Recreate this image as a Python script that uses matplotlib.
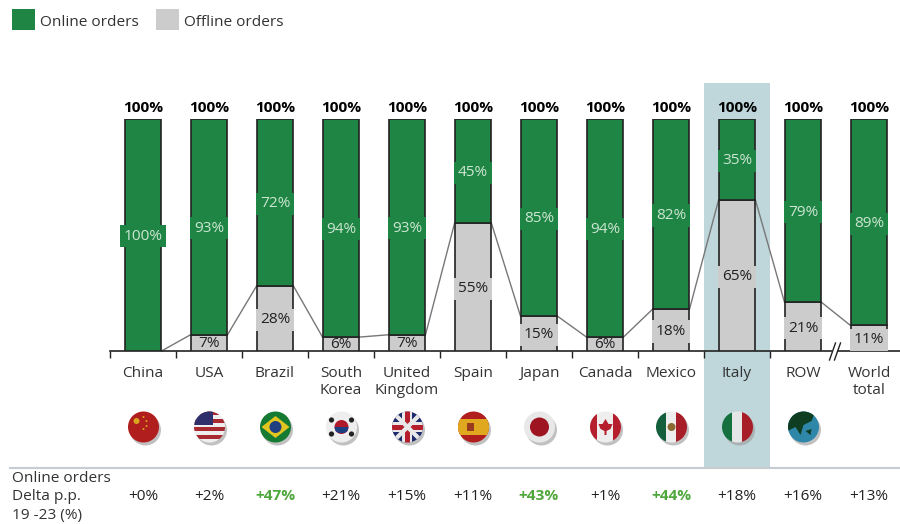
import matplotlib
matplotlib.use("Agg")
import matplotlib.pyplot as plt
from matplotlib.patches import Rectangle, Circle, Polygon
from matplotlib.transforms import blended_transform_factory

plt.rcParams['font.family'] = ['Open Sans', 'DejaVu Sans']

categories = ["China", "USA", "Brazil", "South\nKorea", "United\nKingdom", "Spain",
              "Japan", "Canada", "Mexico", "Italy", "ROW", "World\ntotal"]
online = [100, 93, 72, 94, 93, 45, 85, 94, 82, 35, 79, 89]
offline = [0, 7, 28, 6, 7, 55, 15, 6, 18, 65, 21, 11]
totals = ["100%"] * 12
delta = ["+0%", "+2%", "+47%", "+21%", "+15%", "+11%", "+43%", "+1%", "+44%", "+18%", "+16%", "+13%"]
delta_highlight = ["+47%", "+43%", "+44%"]

GREEN = "#1E8544"
GRAY = "#CCCCCC"
DARK = "#333333"
W, H = 900, 524
FS = 11.1

fig = plt.figure(figsize=(W / 100, H / 100), dpi=100)

# pixel-space background layer
bg = fig.add_axes([0, 0, 1, 1], zorder=0)
bg.set_xlim(0, W)
bg.set_ylim(H, 0)
bg.axis("off")

L, R, B, T = 110, 902, 351, 119
ax = fig.add_axes([L / W, 1 - B / H, (R - L) / W, (B - T) / H], zorder=2)
ax.patch.set_alpha(0)
ax.set_xlim(-0.5, 11.5)
ax.set_ylim(0, 100)
for s in ["left", "right", "top"]:
    ax.spines[s].set_visible(False)
ax.spines["bottom"].set_color("#222222")
ax.spines["bottom"].set_linewidth(1.2)
ax.set_yticks([])

x = list(range(len(categories)))
bw = 0.56
b1 = ax.bar(x, offline, bw, color=GRAY, edgecolor="#222222", linewidth=1.2, label="Offline orders", zorder=3)
b2 = ax.bar(x, online, bw, bottom=offline, color=GREEN, edgecolor="#222222", linewidth=1.2, label="Online orders", zorder=3)

# connectors
for i in range(len(x) - 1):
    ax.plot([x[i] + bw / 2, x[i + 1] - bw / 2], [offline[i], offline[i + 1]],
            color="#777777", lw=1, zorder=2, clip_on=False)

# value labels
NUDGE = -0.6
for i in x:
    ax.text(i, offline[i] + online[i] / 2 + NUDGE, f"{online[i]}%", ha="center", va="center",
            color="#CDE6D2", fontsize=FS, zorder=5,
            bbox=dict(fc=GREEN, ec="none", pad=2.6))
    if offline[i] > 10:
        ax.text(i, offline[i] / 2 + NUDGE, f"{offline[i]}%", ha="center", va="center",
                color="#222222", fontsize=FS, zorder=5,
                bbox=dict(fc=GRAY, ec="none", pad=2.6))
    elif offline[i] > 0:
        ax.text(i, offline[i] / 2 - 0.4, f"{offline[i]}%", ha="center", va="center",
                color="#222222", fontsize=FS, zorder=5)
    ax.text(i, 100 + 4.7, totals[i], ha="center", va="center", color="black",
            fontsize=FS, fontweight="bold", zorder=5)

# axis ticks
ax.set_xticks(x, categories)
ax.tick_params(axis="x", which="major", length=0, pad=10.5, labelsize=FS, labelcolor=DARK)
for t in ax.get_xticklabels():
    t.set_verticalalignment("top")
    t.set_linespacing(1.25)
ax.set_xticks([i - 0.5 for i in range(11)], minor=True)
ax.tick_params(axis="x", which="minor", length=5, width=1, color="#222222")

# axis break
tr = blended_transform_factory(ax.transData, bg.transData)
bg2 = fig.add_axes([0, 0, 1, 1], zorder=3)
bg2.set_xlim(0, W)
bg2.set_ylim(H, 0)
bg2.axis("off")
bg2.add_patch(Rectangle((832, 349), 5, 4, fc="white", ec="none"))
for dx in (-2.5, 2.5):
    bg2.plot([832 + dx, 838 + dx], [360, 343], color="#222222", lw=1)

# highlight & separator
bg.add_patch(Rectangle((704, 83), 66, 385, fc="#BFD7DB", ec="none", zorder=0))
bg.plot([10, 900], [468, 468], color="#C5CDD0", lw=1.5, zorder=1)

# delta row
for i in x:
    hl = delta[i] in delta_highlight
    bg.text(tr.transform((i, 0))[0], 496, delta[i], ha="center", va="center",
            color="#4FA63C" if hl else "#222222", fontsize=FS,
            fontweight="bold" if hl else "normal")
bg.text(12, 497, "Online orders\nDelta p.p.\n19 -23 (%)", ha="left", va="center",
        color=DARK, fontsize=FS, linespacing=1.3)


# flags
def flag(cx, draw, cy=427, r=15.5):
    bg.add_patch(Circle((cx + 2, cy + 3), r, fc="#999999", ec="none", alpha=0.6, zorder=2))
    clip = Circle((cx, cy), r, transform=bg.transData)
    def rect(x0, y0, w, h, c):
        p = Rectangle((cx + x0, cy + y0), w, h, fc=c, ec="none", zorder=3)
        bg.add_patch(p)
        p.set_clip_path(clip)
    def circ(x0, y0, rad, c):
        p = Circle((cx + x0, cy + y0), rad, fc=c, ec="none", zorder=4)
        bg.add_patch(p)
        p.set_clip_path(clip)
    def poly(pts, c, z=4):
        p = Polygon([(cx + a, cy + b) for a, b in pts], fc=c, ec="none", zorder=z)
        bg.add_patch(p)
        p.set_clip_path(clip)
    draw(rect, circ, poly)


def china(rect, circ, poly):
    rect(-16, -16, 32, 32, "#B01E1E")
    circ(-7, -6, 3, "#D9A520")
    for a, b in [(0, -10), (3, -6), (3, -1), (0, 2)]:
        circ(a, b, 1, "#D9A520")


def usa(rect, circ, poly):
    for k in range(8):
        rect(-16, -16 + 4 * k, 32, 4, "#A82A30" if k % 2 == 0 else "#EEEEEE")
    rect(-16, -16, 19, 14, "#2F2F6B")


def brazil(rect, circ, poly):
    rect(-16, -16, 32, 32, "#157A32")
    poly([(-14, 0), (0, -11), (14, 0), (0, 11)], "#E2C51E")
    circ(0, 0, 6, "#1F3F80")


def korea(rect, circ, poly):
    rect(-16, -16, 32, 32, "#EEEEEE")
    circ(0, 0, 7, "#B0182C")
    p = [(-7, 0), (7, 0), (6, 4), (3, 6), (-3, 6), (-6, 4)]
    poly(p, "#1C3F84", 5)
    for a, b in [(-10, -7), (10, -7), (-10, 7), (10, 7)]:
        circ(a, b, 2.6, "#222222")


def uk(rect, circ, poly):
    rect(-16, -16, 32, 32, "#1D2A6B")
    poly([(-16, -13), (-13, -16), (16, 13), (13, 16)], "#E8E8E8")
    poly([(16, -13), (13, -16), (-16, 13), (-13, 16)], "#E8E8E8")
    rect(-5, -16, 10, 32, "#E8E8E8")
    rect(-16, -5, 32, 10, "#E8E8E8")
    rect(-2.5, -16, 5, 32, "#B51E2C")
    rect(-16, -2.5, 32, 5, "#B51E2C")


def spain(rect, circ, poly):
    rect(-16, -16, 32, 32, "#B01E1E")
    rect(-16, -8, 32, 16, "#E0A81E")
    rect(-6, -4, 7, 8, "#9A3A1E")


def japan(rect, circ, poly):
    rect(-16, -16, 32, 32, "#E8E8E8")
    circ(0, 0, 9.5, "#9E1420")


def canada(rect, circ, poly):
    rect(-16, -16, 32, 32, "#EEEEEE")
    rect(-16, -16, 8, 32, "#B51E2C")
    rect(8, -16, 8, 32, "#B51E2C")
    poly([(0, -8), (3, -3), (7, -3), (5, 2), (1, 4), (1, 8), (-1, 8), (-1, 4), (-5, 2), (-7, -3), (-3, -3)], "#B51E2C")


def mexico(rect, circ, poly):
    rect(-16, -16, 11, 32, "#14603C")
    rect(-5, -16, 10, 32, "#EEEEEE")
    rect(5, -16, 11, 32, "#A81E28")
    circ(0, 0, 4, "#8A6A30")


def italy(rect, circ, poly):
    rect(-16, -16, 11, 32, "#14703C")
    rect(-5, -16, 10, 32, "#E6E6E6")
    rect(5, -16, 11, 32, "#A81E28")


def row(rect, circ, poly):
    rect(-16, -16, 32, 32, "#2E86A8")
    poly([(-16, -16), (12, -16), (8, -6), (0, -2), (-3, 8), (-8, 0), (-16, 4)], "#0F3D22")
    poly([(2, 4), (8, 2), (7, 8)], "#0F3D22")


flags = [china, usa, brazil, korea, uk, spain, japan, canada, mexico, italy, row]
for i, f in enumerate(flags):
    flag(tr.transform((i, 0))[0] + 0.5, f)

# legend
handles = [b2, b1]
leg = fig.legend(handles, ["Online orders", "Offline orders"], ncol=2, loc="upper left",
                 bbox_to_anchor=(0.0, 0.996), frameon=False, fontsize=FS, labelcolor=DARK,
                 handlelength=1.5, handleheight=1.1, handletextpad=0.35, columnspacing=1.1,
                 borderaxespad=0.25, borderpad=0.5)
for h, c in zip(leg.legend_handles, [GREEN, GRAY]):
    h.set_edgecolor("none")
    h.set_facecolor(c)
    h.set_height(15)
    h.set_y(-2.5)

fig.savefig("out.png", dpi=100)
